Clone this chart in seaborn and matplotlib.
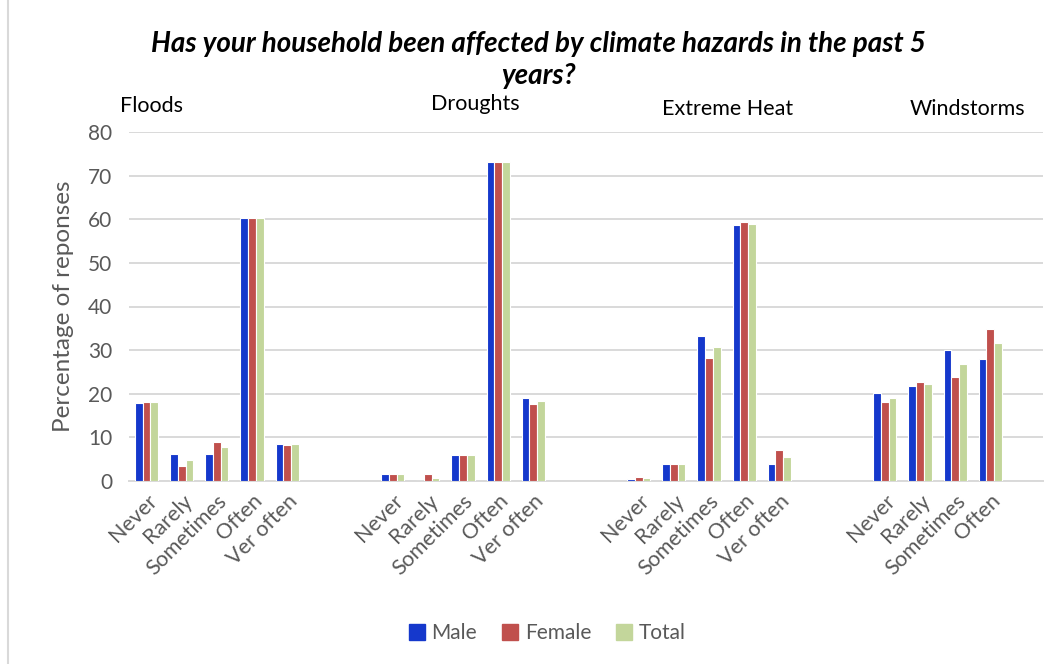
import matplotlib
matplotlib.use("Agg")
import matplotlib.pyplot as plt
import seaborn as sns
import pandas as pd
from matplotlib.lines import Line2D

# Survey results (% of responses) per hazard and frequency
hazards = ["Floods", "Droughts", "Extreme Heat", "Windstorms"]
levels = {
    "Floods": ["Never", "Rarely", "Sometimes", "Often", "Ver often"],
    "Droughts": ["Never", "Rarely", "Sometimes", "Often", "Ver often"],
    "Extreme Heat": ["Never", "Rarely", "Sometimes", "Often", "Ver often"],
    "Windstorms": ["Never", "Rarely", "Sometimes", "Often"],
}
series = ["Male", "Female", "Total"]

floods_male = [17.8, 6.3, 6.3, 60.2, 8.5]
floods_female = [18.1, 3.4, 8.9, 60.4, 8.3]
floods_total = [18.0, 4.8, 7.7, 60.2, 8.5]

droughts_male = [1.5, 0.0, 5.9, 73.2, 19.0]
droughts_female = [1.5, 1.5, 6.0, 73.1, 17.7]
droughts_total = [1.5, 0.6, 6.0, 73.2, 18.3]

heat_male = [0.4, 3.8, 33.3, 58.6, 3.8]
heat_female = [0.9, 4.0, 28.3, 59.4, 7.1]
heat_total = [0.6, 3.8, 30.7, 58.9, 5.5]

wind_male = [20.1, 21.8, 30.0, 27.9]
wind_female = [18.2, 22.7, 23.8, 34.9]
wind_total = [19.0, 22.3, 26.8, 31.6]

values = {
    "Floods": [floods_male, floods_female, floods_total],
    "Droughts": [droughts_male, droughts_female, droughts_total],
    "Extreme Heat": [heat_male, heat_female, heat_total],
    "Windstorms": [wind_male, wind_female, wind_total],
}

palette = {"Male": "#1538CC", "Female": "#C0504D", "Total": "#C3D69B"}
grey_text = "#595959"

# Category slots: each hazard block is followed by two empty slots
rows = []
order = []
tick_labels = []
for hi, hz in enumerate(hazards):
    for li, lv in enumerate(levels[hz]):
        key = f"{hz}|{lv}"
        order.append(key)
        tick_labels.append(lv)
        for si, s in enumerate(series):
            rows.append({"slot": key, "series": s, "value": values[hz][si][li]})
    n_pad = 2 if hi < len(hazards) - 1 else 1
    for k in range(n_pad):
        order.append(f"{hz}|pad{k}")
        tick_labels.append("")
df = pd.DataFrame(rows)

sns.set_theme(style="white")
plt.rcParams["font.family"] = ["Lato", "DejaVu Sans"]

fig = plt.figure(figsize=(10.59, 6.64), dpi=100)
ax = fig.add_axes([129 / 1059, 1 - 481 / 664, (1043 - 129) / 1059, (481 - 132) / 664])

sns.barplot(data=df, x="slot", y="value", hue="series", order=order,
            hue_order=series, palette=palette, width=0.66, saturation=1,
            edgecolor="white", linewidth=0.8, ax=ax, legend=False, zorder=3)

ax.set_ylim(0, 80)
ax.set_xlim(-0.5, len(order) - 0.5)
ax.set_yticks(range(0, 81, 10))
ax.tick_params(axis="y", length=0, labelsize=15, labelcolor=grey_text, pad=12)
ax.tick_params(axis="x", length=0, pad=7)
ax.set_xticks(range(len(order)))
ax.set_xticklabels(tick_labels, rotation=45, ha="right", rotation_mode="anchor",
                   fontsize=15.5, color=grey_text)
ax.yaxis.grid(True, color="#D9D9D9", linewidth=1.4, zorder=0)
ax.set_axisbelow(True)
for side in ["top", "right", "left"]:
    ax.spines[side].set_visible(False)
ax.spines["bottom"].set_color("#D9D9D9")
ax.spines["bottom"].set_linewidth(1.4)
ax.set_xlabel("")
ax.set_ylabel("Percentage of reponses", fontsize=17.5, color=grey_text, labelpad=10)

# Title
fig.text(538 / 1059, 1 - 44 / 664,
         "Has your household been affected by climate hazards in the past 5",
         ha="center", va="center", fontsize=20, fontweight="bold", style="italic",
         color="black")
fig.text(538 / 1059, 1 - 76 / 664, "years?", ha="center", va="center",
         fontsize=20, fontweight="bold", style="italic", color="black")

# Hazard labels above each block
hazard_pos = {"Floods": (152, 106), "Droughts": (475, 104),
              "Extreme Heat": (728, 109), "Windstorms": (967, 109)}
for hz in hazards:
    x, y = hazard_pos[hz]
    fig.text(x / 1059, 1 - y / 664, hz, ha="center", va="center",
             fontsize=15.5, color="black")

# Legend
handles = [Line2D([], [], marker="s", linestyle="none", markersize=11,
                  markerfacecolor=palette[s], markeredgecolor=palette[s])
           for s in series]
fig.legend(handles, series, loc="center", bbox_to_anchor=(545 / 1059, 1 - 633 / 664),
           ncol=3, frameon=False, fontsize=15, labelcolor=grey_text,
           handletextpad=0.1, columnspacing=1.0, handlelength=1.2)

# Chart area border
fig.add_artist(Line2D([8 / 1059, 8 / 1059], [0, 1], color="#D9D9D9", linewidth=1.5,
                      transform=fig.transFigure))

fig.savefig("out.png", dpi=100, facecolor="white")
